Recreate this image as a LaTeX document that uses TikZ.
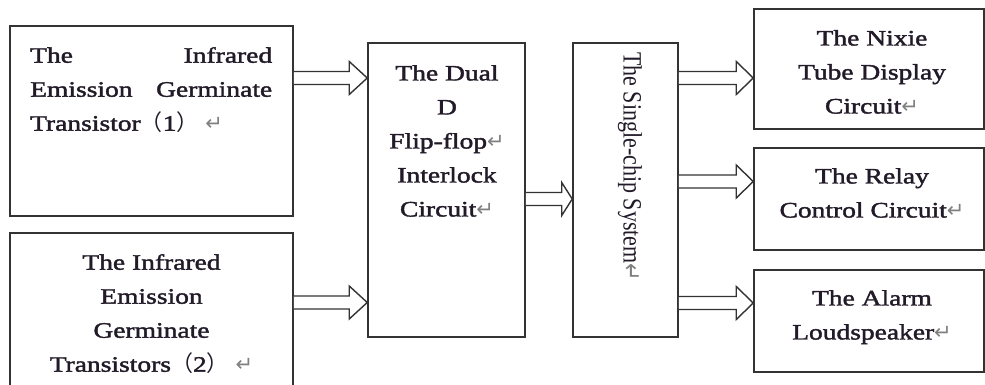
\documentclass[tikz,border=0pt]{standalone}
\usepackage{fontspec}
\setmainfont{Liberation Serif}[FakeStretch=1.25,FakeBold=1.8]
\newfontfamily\rotfont{Liberation Serif}
\newfontfamily\symf{DejaVu Sans}
\newfontfamily\cjk{Noto Sans CJK SC}
\usetikzlibrary{calc}
\definecolor{linec}{HTML}{333333}
\definecolor{txtc}{HTML}{221A28}
\newcommand{\ret}{{\symf\color{gray}\fontsize{21}{21}\selectfont ↵}}
\newcommand{\lp}{{\cjk （}}
\newcommand{\rp}{{\cjk ）}}
% block arrow: from node, to node, y, head length
\newcommand{\barrow}[4]{%
  \path (#1.east |- 0,#3) coordinate (bs) (#2.west |- 0,#3) coordinate (bt);
  \draw[blockarrow] ($(bs)+(0,-6.5)$) -- ($(bt)+(-#4,-6.5)$) -- ($(bt)+(-#4,-16.5)$)
    -- (bt) -- ($(bt)+(-#4,16.5)$) -- ($(bt)+(-#4,6.5)$) -- ($(bs)+(0,6.5)$);
}
\tikzset{
  box/.style={draw=linec, line width=1.5pt, inner sep=0pt, fill=white},
  txt/.style={text=txtc, inner sep=0pt, font=\fontsize{22}{34}\selectfont},
  blockarrow/.style={draw=linec, line width=1.4pt, fill=white, line join=miter},
}
\begin{document}
\begin{tikzpicture}[x=1pt,y=-1pt]
\useasboundingbox (0,0) rectangle (985,385);
\clip (0,0) rectangle (985,385);
\fill[white] (0,0) rectangle (985,385);
% boxes
\node[box, minimum width=283pt, minimum height=190pt] (b1) at (151.5,121) {};
\node[box, minimum width=283pt, minimum height=165pt] (b2) at (151.5,315.5) {};
\node[box, minimum width=157pt, minimum height=294pt] (dual) at (446.5,190) {};
\node[box, minimum width=105pt, minimum height=294pt] (mcu) at (625.5,190) {};
\node[box, minimum width=230pt, minimum height=120pt] (nixie) at (869,69) {};
\node[box, minimum width=230pt, minimum height=102pt] (relay) at (869,199) {};
\node[box, minimum width=230pt, minimum height=102pt] (alarm) at (869,321) {};
% texts
\node[txt, anchor=north west, text width=242pt, align=justify] (t1) at (30,47)
  {The Infrared\linebreak Emission Germinate\linebreak Transistor\lp 1\rp\ \ret};
\node[txt, anchor=north, align=center] (t2) at (151.5,254)
  {The Infrared\\Emission\\Germinate\\Transistors\lp 2\rp\ \ret};
\node[txt, anchor=north, align=center] (t3) at (447,65)
  {The Dual\\D\\Flip-flop\ret\\Interlock\\Circuit\ret};
\node[txt, anchor=west, rotate=-90, font=\rotfont\fontsize{22}{34}\selectfont] (t4) at (630,52)
  {\scalebox{1}[1.2]{The Single-chip System\ret}};
\node[txt, anchor=north, align=center] (t5) at (872,30)
  {The Nixie\\Tube Display\\Circuit\ret};
\node[txt, anchor=north, align=center] (t6) at (872,168)
  {The Relay\\Control Circuit\ret};
\node[txt, anchor=north, align=center] (t7) at (872,290)
  {The Alarm\\Loudspeaker\ret};
% arrows
\barrow{b1}{dual}{78}{18}
\barrow{b2}{dual}{302.5}{18}
\barrow{dual}{mcu}{199}{10.5}
\barrow{mcu}{nixie}{78}{17}
\barrow{mcu}{relay}{181.5}{17}
\barrow{mcu}{alarm}{303}{17}
\end{tikzpicture}
\end{document}
